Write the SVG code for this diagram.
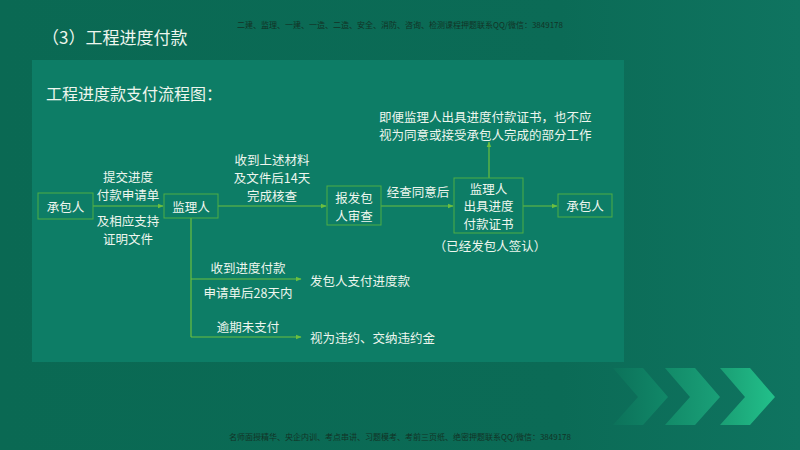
<svg xmlns="http://www.w3.org/2000/svg" width="800" height="450" viewBox="0 0 800 450">
<defs>
<linearGradient id="bg" x1="0" y1="0" x2="1" y2="0">
<stop offset="0" stop-color="#0a6953"/>
<stop offset="0.7" stop-color="#0b6b56"/>
<stop offset="1" stop-color="#0f7460"/>
</linearGradient>
<linearGradient id="ch3" x1="0" y1="0" x2="1" y2="0">
<stop offset="0" stop-color="#1a9e74"/>
<stop offset="1" stop-color="#22c08a"/>
</linearGradient>
<linearGradient id="ch2" x1="0" y1="0" x2="1" y2="0">
<stop offset="0" stop-color="#128a68"/>
<stop offset="1" stop-color="#1aa078"/>
</linearGradient>
<linearGradient id="ch1" x1="0" y1="0" x2="1" y2="0">
<stop offset="0" stop-color="#0c725a"/>
<stop offset="1" stop-color="#118868"/>
</linearGradient>
<marker id="arr" viewBox="0 0 10 10" refX="9" refY="5" markerWidth="6" markerHeight="6" orient="auto" markerUnits="userSpaceOnUse">
<path d="M0,1 L10,5 L0,9 Z" fill="#6cbf3f"/>
</marker>
<style>
.t{font-family:"Noto Sans CJK SC","Noto Sans",sans-serif;fill:#eef6ee;}
.n{font-size:12.5px;text-anchor:middle;dominant-baseline:central;}
.l{font-size:12.5px;dominant-baseline:central;}
.box{fill:none;stroke:#4fae45;stroke-width:1;}
.c{fill:none;stroke:#6cbf3f;stroke-width:1.2;}
.wm{font-family:"Noto Sans CJK SC",sans-serif;fill:#123326;text-anchor:middle;dominant-baseline:central;font-size:8px;}
</style>
</defs>
<rect width="800" height="450" fill="url(#bg)"/>
<rect x="32" y="60" width="592" height="302" fill="#0d7d66"/>
<text class="wm" x="400" y="24">二建、监理、一建、一造、二造、安全、消防、咨询、检测课程押题联系QQ/微信：3849178</text>
<text class="wm" x="400" y="436">名师面授精华、央企内训、考点串讲、习题模考、考前三页纸、绝密押题联系QQ/微信：3849178</text>
<text class="t" x="42" y="36" font-size="17" dominant-baseline="central">（3）工程进度付款</text>
<text class="t" x="46" y="93" font-size="16" dominant-baseline="central">工程进度款支付流程图：</text>
<g id="chevrons">
<polygon points="613,368 643,368 668,397 643,425 613,425 638,397" fill="url(#ch1)"/>
<polygon points="665,368 695,368 720,397 695,425 665,425 690,397" fill="url(#ch2)"/>
<polygon points="720,368 750,368 775,397 750,425 720,425 745,397" fill="url(#ch3)"/>
</g>
<g id="connectors">
<line class="c" x1="93" y1="206" x2="163" y2="206" marker-end="url(#arr)"/>
<line class="c" x1="218" y1="206" x2="326" y2="206" marker-end="url(#arr)"/>
<line class="c" x1="381" y1="206" x2="453" y2="206" marker-end="url(#arr)"/>
<line class="c" x1="523" y1="206" x2="557" y2="206" marker-end="url(#arr)"/>
<line class="c" x1="489" y1="178" x2="489" y2="142" marker-end="url(#arr)"/>
<polyline class="c" points="191,218 191,337"/>
<line class="c" x1="191" y1="279" x2="301" y2="279" marker-end="url(#arr)"/>
<line class="c" x1="191" y1="337" x2="301" y2="337" marker-end="url(#arr)"/>
<g id="connector-labels">
<text class="t n" x="128" y="176">提交进度</text>
<text class="t n" x="128" y="194">付款申请单</text>
<text class="t n" x="128" y="220">及相应支持</text>
<text class="t n" x="128" y="238">证明文件</text>
<text class="t n" x="272" y="159">收到上述材料</text>
<text class="t n" x="272" y="177">及文件后14天</text>
<text class="t n" x="272" y="195">完成核查</text>
<text class="t n" x="418" y="191">经查同意后</text>
<text class="t n" x="248" y="267">收到进度付款</text>
<text class="t n" x="248" y="292">申请单后28天内</text>
<text class="t n" x="248" y="326">逾期未支付</text>
</g>
</g>
<g id="n1">
<rect class="box" x="38" y="193" width="55" height="26"/>
<text class="t n" x="65.5" y="206">承包人</text>
</g>
<g id="n2">
<rect class="box" x="164" y="194" width="54" height="24"/>
<text class="t n" x="191" y="206">监理人</text>
</g>
<g id="n3">
<rect class="box" x="327" y="186" width="54" height="39"/>
<text class="t n" x="354" y="197">报发包</text>
<text class="t n" x="354" y="215">人审查</text>
</g>
<g id="n4">
<rect class="box" x="454" y="178" width="69" height="55"/>
<text class="t n" x="488.5" y="188">监理人</text>
<text class="t n" x="488.5" y="205.5">出具进度</text>
<text class="t n" x="488.5" y="223">付款证书</text>
</g>
<g id="n5">
<rect class="box" x="558" y="194" width="54" height="23"/>
<text class="t n" x="585" y="205.5">承包人</text>
</g>
<g id="note-top">
<text class="t l" x="379" y="116">即便监理人出具进度付款证书，也不应</text>
<text class="t l" x="379" y="134">视为同意或接受承包人完成的部分工作</text>
</g>
<g id="note-sign">
<text class="t n" x="490" y="245">（已经发包人签认）</text>
</g>
<g id="r1">
<text class="t l" x="310" y="280">发包人支付进度款</text>
</g>
<g id="r2">
<text class="t l" x="310" y="337">视为违约、交纳违约金</text>
</g>
</svg>
